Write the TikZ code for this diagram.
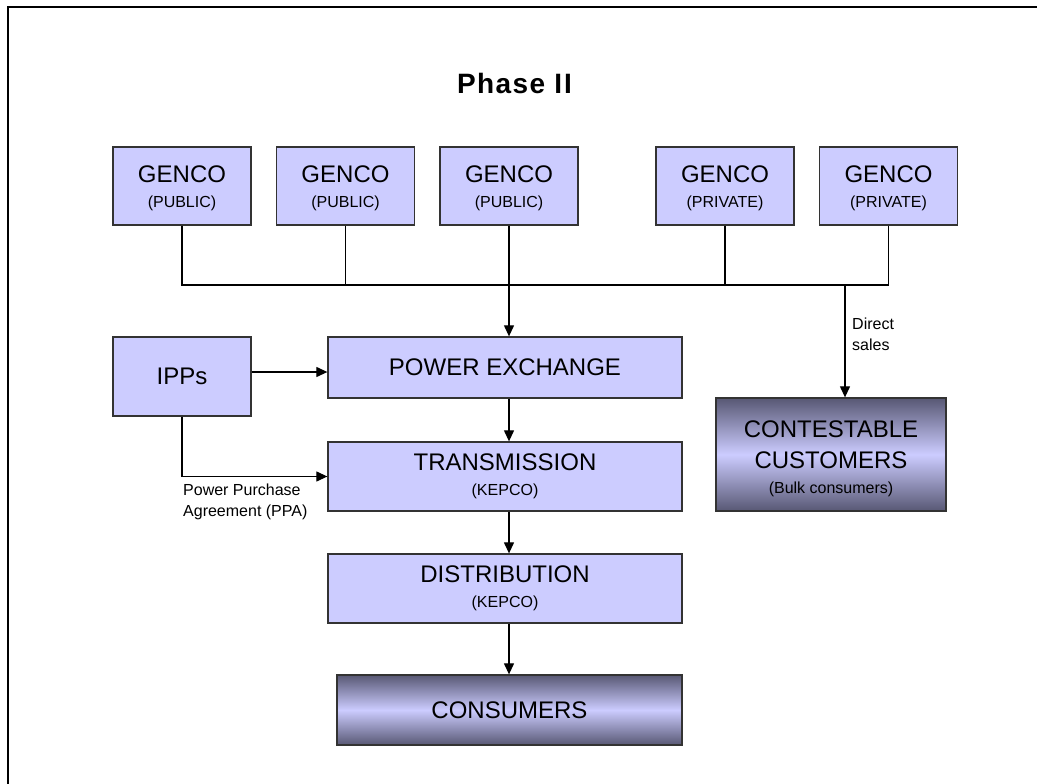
\documentclass[tikz,border=0pt]{standalone}
\usepackage{fontspec}
\setmainfont{Liberation Sans}
\newfontfamily\titlefont[LetterSpace=5]{Liberation Sans}
\usetikzlibrary{arrows.meta}
\definecolor{boxfill}{HTML}{CCCCFF}
\definecolor{boxline}{HTML}{333333}
\definecolor{shadedark}{HTML}{585874}
\newcommand\fbig{\fontsize{24}{25}\selectfont}
\newcommand\fsmall{\fontsize{16}{25}\selectfont}
\begin{document}
\begin{tikzpicture}[x=1pt,y=-1pt,
  box/.style={draw=boxline, line width=1.3pt, fill=boxfill, rectangle, inner sep=0pt, align=center, font=\fsmall},
  gradbox/.style={box, top color=shadedark, bottom color=shadedark, middle color=boxfill},
  conn/.style={line width=1.2pt, draw=black},
  arr/.style={conn, -{Triangle[length=11pt,width=10pt]}},
  lbl/.style={font=\fontsize{16}{21}\selectfont, align=left, inner sep=0pt, anchor=north west}]
\clip (0,0) rectangle (1037,784);
\draw[line width=2.5pt] (8,800) -- (8,7) -- (1050,7);

\node[anchor=base] (title) at (514.5,93) {\titlefont\bfseries\fontsize{28}{30}\selectfont Phase I\kern2pt I};

\node[box, minimum width=138pt, minimum height=78pt] (g1) at (182,186) {\rule{0pt}{21pt}{\fbig GENCO}\\(PUBLIC)};
\node[box, minimum width=138pt, minimum height=78pt] (g2) at (345.5,186) {\rule{0pt}{21pt}{\fbig GENCO}\\(PUBLIC)};
\node[box, minimum width=138pt, minimum height=78pt] (g3) at (509,186) {\rule{0pt}{21pt}{\fbig GENCO}\\(PUBLIC)};
\node[box, minimum width=138pt, minimum height=78pt] (g4) at (725,186) {\rule{0pt}{21pt}{\fbig GENCO}\\(PRIVATE)};
\node[box, minimum width=138pt, minimum height=78pt] (g5) at (888.5,186) {\rule{0pt}{21pt}{\fbig GENCO}\\(PRIVATE)};

\node[box, minimum width=138pt, minimum height=79pt] (ipp) at (182,376.5) {\fbig IPPs};
\node[box, minimum width=354pt, minimum height=61pt] (pe) at (505,367.5) {\fbig POWER EXCHANGE};
\node[box, minimum width=354pt, minimum height=69pt] (tr) at (505,476.5) {{\fbig TRANSMISSION}\\(KEPCO)};
\node[box, minimum width=354pt, minimum height=69pt] (di) at (505,588.5) {{\fbig DISTRIBUTION}\\(KEPCO)};
\node[gradbox, minimum width=345pt, minimum height=70pt] (co) at (509.5,710) {\fbig CONSUMERS};
\node[gradbox, minimum width=230pt, minimum height=113pt] (cc) at (831,454.5) {\rule{0pt}{25pt}{\fbig CONTESTABLE}\\[6pt]{\fbig CUSTOMERS}\\(Bulk consumers)};

\coordinate (busL) at (182,285);
\coordinate (ds) at (845,285);

\draw[conn] (g1.south) -- (g1.south |- busL) -- (g5.south |- busL) -- (g5.south);
\draw[conn] (g2.south) -- (g2.south |- busL);
\draw[conn] (g4.south) -- (g4.south |- busL);
\draw[arr] (g3.south) -- (g3.south |- pe.north);
\draw[arr] (ds) -- (ds |- cc.north);
\draw[arr] (pe.south -| g3.south) -- (tr.north -| g3.south);
\draw[arr] (tr.south -| g3.south) -- (di.north -| g3.south);
\draw[arr] (di.south -| g3.south) -- (co.north -| g3.south);
\draw[arr] ([yshift=4.5pt]ipp.east) -- ([yshift=4.5pt]ipp.east -| pe.west);
\draw[arr] (ipp.south) |- (tr.west);

\node[lbl] (ppa) at (183,484) {Power Purchase\\Agreement (PPA)};
\node[lbl] (dsl) at (852,318) {Direct\\sales};
\end{tikzpicture}
\end{document}
